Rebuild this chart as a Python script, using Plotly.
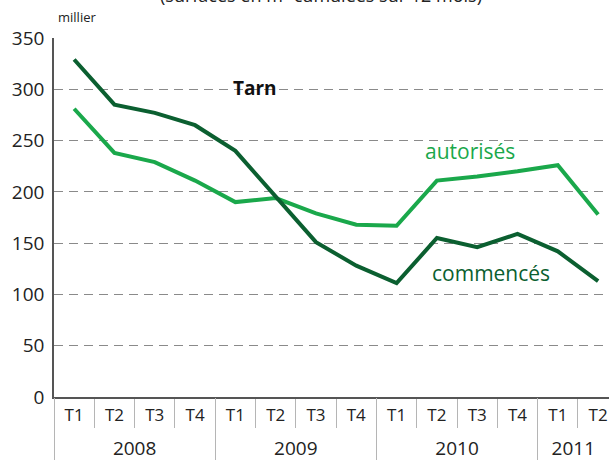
import plotly.graph_objects as go

years = ["2008", "2009", "2010", "2011"]
year_counts = [4, 4, 4, 2]
quarters = ["T1", "T2", "T3", "T4"] * 3 + ["T1", "T2"]
commences = [329, 285, 277, 265, 240, 196, 151, 128, 111, 155, 146, 159, 142, 113]
autorises = [281, 238, 229, 211, 190, 194, 179, 168, 167, 211, 215, 220, 226, 178]
y_ticks = [0, 50, 100, 150, 200, 250, 300, 350]

DARK = "#0b5f30"
LIGHT = "#1aa84b"
FONT = "Open Sans"
TXT = "#222"
SEP = "#b5b5b5"

x_idx = list(range(len(quarters)))
x_range = [-0.5, 13.27]

# year boundaries / centres (last one centred on the visible part)
starts = [sum(year_counts[:i]) for i in range(len(years))]
year_bounds = [s - 0.5 for s in starts]
year_pos = []
for s, c in zip(starts, year_counts):
    lo, hi = s - 0.5, min(s + c - 0.5, x_range[1])
    year_pos.append((lo + hi) / 2)

fig = go.Figure()
fig.add_trace(go.Scatter(x=x_idx, y=autorises, mode="lines", xaxis="x", yaxis="y",
                         line=dict(color=LIGHT, width=4), showlegend=False, hoverinfo="skip"))
fig.add_trace(go.Scatter(x=x_idx, y=commences, mode="lines", xaxis="x2", yaxis="y",
                         line=dict(color=DARK, width=4), showlegend=False, hoverinfo="skip"))

fig.update_layout(
    width=609, height=461,
    margin=dict(l=54, r=0, t=38, b=62),
    plot_bgcolor="white", paper_bgcolor="white",
    font=dict(family=FONT, size=18, color=TXT),
    xaxis=dict(
        range=x_range, tickmode="array", tickvals=x_idx, ticktext=quarters,
        showline=True, linecolor="#555", linewidth=1.5,
        showgrid=False, zeroline=False,
        ticks="", ticklen=0, ticklabelstandoff=2,
        minor=dict(tickmode="array", tickvals=[i - 0.5 for i in range(len(quarters) + 1)],
                   ticks="outside", ticklen=29, tickcolor=SEP, tickwidth=1, showgrid=False),
        tickfont=dict(family=FONT, size=17, color=TXT),
    ),
    xaxis2=dict(
        overlaying="x", matches="x", anchor="y", side="bottom",
        range=x_range, tickmode="array", tickvals=year_pos, ticktext=years,
        showline=False, showgrid=False, zeroline=False,
        ticks="", ticklen=0, ticklabelstandoff=38,
        minor=dict(tickmode="array", tickvals=year_bounds,
                   ticks="outside", ticklen=62, tickcolor=SEP, tickwidth=1, showgrid=False),
        tickfont=dict(family=FONT, size=19, color=TXT),
    ),
    yaxis=dict(
        range=[0, 350], tickvals=y_ticks,
        showline=True, linecolor="#555", linewidth=1.5,
        showgrid=True, gridcolor="#8a8a8a", gridwidth=1.2, griddash="9px,6px",
        zeroline=False, ticks="",
        tickfont=dict(family=FONT, size=19, color=TXT),
        ticklabelstandoff=4,
    ),
    annotations=[
        dict(text="(surfaces en m² cumulées sur 12 mois)", xref="paper", yref="paper",
             x=(321 - 54) / 555, y=(399 + 5) / 361, showarrow=False,
             font=dict(family=FONT, size=18, color=TXT), xanchor="center", yanchor="middle"),
        dict(text="millier", xref="paper", yref="paper",
             x=(56 - 54) / 555, y=(399 - 17) / 361, showarrow=False,
             font=dict(family=FONT, size=13, color=TXT), xanchor="left", yanchor="middle"),
        dict(text="<b>Tarn</b>", xref="paper", yref="paper",
             x=(255 - 54) / 555, y=(399 - 88) / 361, showarrow=False,
             font=dict(family=FONT, size=19, color="#111"), xanchor="center", yanchor="middle"),
        dict(text="autorisés", xref="paper", yref="paper",
             x=(470 - 54) / 555, y=(399 - 152) / 361, showarrow=False,
             font=dict(family=FONT, size=21, color=LIGHT), xanchor="center", yanchor="middle"),
        dict(text="commencés", xref="paper", yref="paper",
             x=(491 - 54) / 555, y=(399 - 274) / 361, showarrow=False,
             font=dict(family=FONT, size=21, color=DARK), xanchor="center", yanchor="middle"),
    ],
)

fig.write_html("out.html", config={"displayModeBar": False},
               post_script="document.body.style.margin='0px';")
